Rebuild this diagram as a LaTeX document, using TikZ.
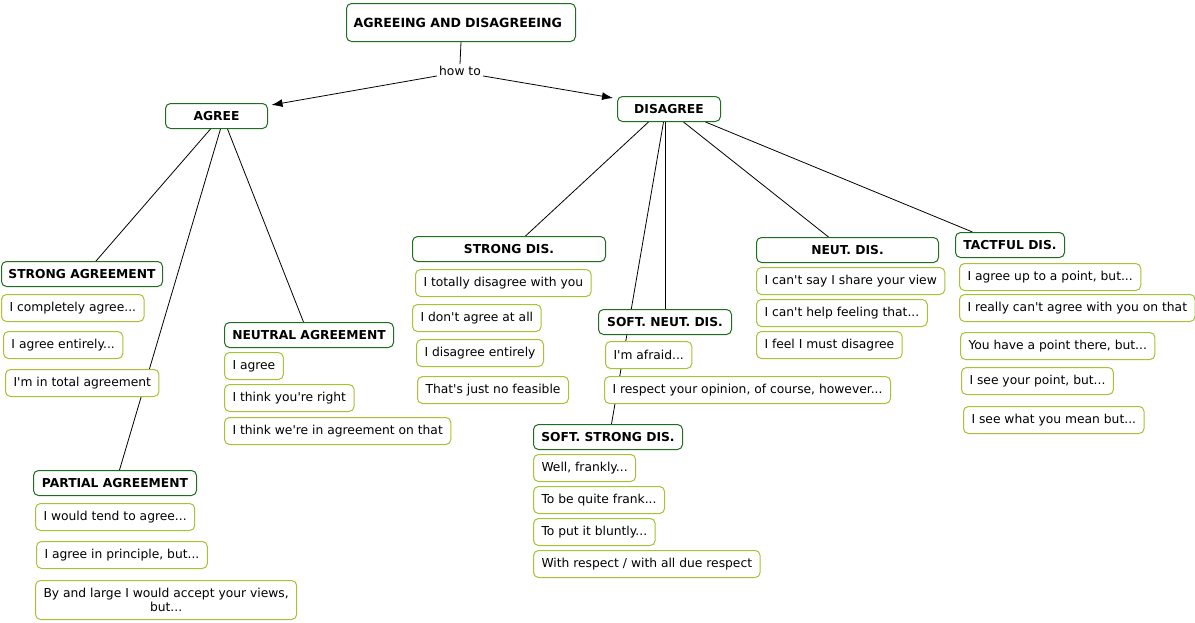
\documentclass[tikz,border=0pt]{standalone}
\usepackage{fontspec}
\setmainfont{DejaVu Sans}[Ligatures=TeXOff]
\usetikzlibrary{arrows.meta, backgrounds}
\definecolor{conceptgreen}{RGB}{30,110,30}
\definecolor{phrasegreen}{RGB}{165,195,50}
\tikzset{
 concept/.style={draw=conceptgreen, line width=1pt, rounded corners=5pt, fill=white, anchor=north west, minimum height=25pt, inner xsep=7pt, font=\fontsize{12.3}{14}\selectfont\bfseries},
 phrase/.style={draw=phrasegreen, line width=1pt, rounded corners=5pt, fill=white, anchor=north west, minimum height=27pt, inner xsep=8pt, font=\fontsize{12.3}{14.5}\selectfont},
 link/.style={line width=0.8pt}
}

\begin{document}
\begin{tikzpicture}[x=1pt, y=-1pt]
 \useasboundingbox (0,0) rectangle (1195,622);
 \node[concept, minimum height=38pt, text width=215pt, align=left, font=\fontsize{12.6}{14}\selectfont\bfseries] (topic) at (346,3) {AGREEING AND DISAGREEING};
 \node[inner sep=2pt, font=\fontsize{12.3}{14}\selectfont] (howto) at (460,71) {how to};
 \node[concept, minimum width=102pt] (agree) at (165,103) {AGREE};
 \node[concept, minimum width=103pt] (disagree) at (617,96) {DISAGREE};
 % agree side
 \node[concept, minimum width=158pt] (stragr) at (1,261) {STRONG AGREEMENT};
 \node[phrase] (stragr1) at (1,294) {I completely agree...};
 \node[phrase] (stragr2) at (3,331) {I agree entirely...};
 \node[phrase] (stragr3) at (5,369) {I'm in total agreement};
 \node[concept, minimum width=169pt] (neuagr) at (224,322) {NEUTRAL AGREEMENT};
 \node[phrase] (neuagr1) at (224,352) {I agree};
 \node[phrase] (neuagr2) at (224,384) {I think you're right};
 \node[phrase] (neuagr3) at (224,417) {I think we're in agreement on that};
 \node[concept, minimum width=163pt] (paragr) at (33,470) {PARTIAL AGREEMENT};
 \node[phrase] (paragr1) at (35,503) {I would tend to agree...};
 \node[phrase] (paragr2) at (36,541) {I agree in principle, but...};
 \node[phrase, minimum height=39pt, align=center] (paragr3) at (35,580) {By and large I would accept your views,\\but...};
 % disagree side
 \node[concept, minimum width=193pt] (strdis) at (412,236) {STRONG DIS.};
 \node[phrase] (strdis1) at (415,269) {I totally disagree with you};
 \node[phrase] (strdis2) at (412,304) {I don't agree at all};
 \node[phrase] (strdis3) at (416,339) {I disagree entirely};
 \node[phrase] (strdis4) at (417,376) {That's just no feasible};
 \node[concept, minimum width=133pt] (softneu) at (598,309) {SOFT. NEUT. DIS.};
 \node[phrase] (softneu1) at (605,341) {I'm afraid...};
 \node[phrase] (softneu2) at (604,376) {I respect your opinion, of course, however...};
 \node[concept, minimum width=149pt] (softstr) at (533,424) {SOFT. STRONG DIS.};
 \node[phrase] (softstr1) at (533,454) {Well, frankly...};
 \node[phrase] (softstr2) at (533,486) {To be quite frank...};
 \node[phrase] (softstr3) at (533,518) {To put it bluntly...};
 \node[phrase] (softstr4) at (533,550) {With respect / with all due respect};
 \node[concept, minimum width=182pt] (neudis) at (756,237) {NEUT. DIS.};
 \node[phrase] (neudis1) at (756,267) {I can't say I share your view};
 \node[phrase] (neudis2) at (756,299) {I can't help feeling that...};
 \node[phrase] (neudis3) at (756,331) {I feel I must disagree};
 \node[concept, minimum width=109pt] (tactdis) at (955,232) {TACTFUL DIS.};
 \node[phrase] (tactdis1) at (959,263) {I agree up to a point, but...};
 \node[phrase] (tactdis2) at (959,294) {I really can't agree with you on that};
 \node[phrase] (tactdis3) at (960,332) {You have a point there, but...};
 \node[phrase] (tactdis4) at (961,367) {I see your point, but...};
 \node[phrase] (tactdis5) at (963,406) {I see what you mean but...};
 % links
 \begin{scope}[on background layer]
  \draw[link] (topic.south) -- (howto.north);
  \draw[link, -{Latex[length=11pt, width=8pt]}] ([yshift=2pt]howto.south west) -- ([xshift=3.5pt, yshift=-2pt]agree.north east);
  \draw[link, -{Latex[length=11pt, width=8pt]}] ([yshift=2pt]howto.south east) -- ([xshift=-4pt, yshift=-2pt]disagree.north west);
  \draw[link] ([xshift=-6pt]agree.south) -- ([xshift=14pt]stragr.north);
  \draw[link] ([xshift=4pt]agree.south) -- ([xshift=4.5pt]paragr.north);
  \draw[link] ([xshift=11pt]agree.south) -- ([xshift=-5.5pt]neuagr.north);
  \draw[link] ([xshift=-20.5pt]disagree.south) -- ([xshift=16.5pt]strdis.north);
  \draw[link] ([xshift=-5.5pt]disagree.south) -- ([xshift=3.5pt]softstr.north);
  \draw[link] ([xshift=-3.5pt]disagree.south) -- ([xshift=0.5pt]softneu.north);
  \draw[link] ([xshift=14.5pt]disagree.south) -- ([xshift=-19pt]neudis.north);
  \draw[link] ([xshift=36.5pt]disagree.south) -- ([xshift=-37.5pt]tactdis.north);
 \end{scope}
\end{tikzpicture}
\end{document}
